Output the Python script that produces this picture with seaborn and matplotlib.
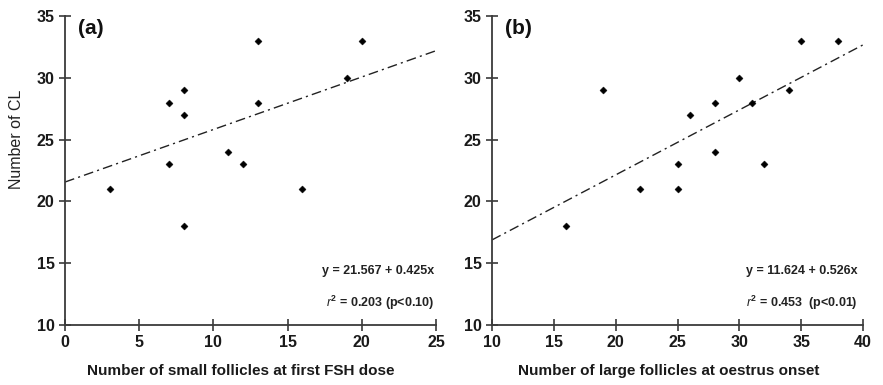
import matplotlib
matplotlib.use("Agg")
import matplotlib.pyplot as plt
import seaborn as sns
import numpy as np
import pandas as pd

# ---- data ----
small_follicles = [3, 7, 7, 8, 8, 8, 11, 12, 13, 13, 16, 19, 20]
cl_a = [21, 28, 23, 29, 27, 18, 24, 23, 33, 28, 21, 30, 33]

large_follicles = [16, 19, 22, 25, 25, 26, 28, 28, 30, 31, 32, 34, 35, 38]
cl_b = [18, 29, 21, 23, 21, 27, 28, 24, 30, 28, 23, 29, 33, 33]

intercept_a, slope_a = 21.567, 0.425
intercept_b, slope_b = 11.624, 0.526
xlim_a = [0, 25]
xlim_b = [10, 40]
ylim = [10, 35]
xticks_a = [0, 5, 10, 15, 20, 25]
xticks_b = [10, 15, 20, 25, 30, 35, 40]
yticks = [10, 15, 20, 25, 30, 35]
panel_labels = ["(a)", "(b)"]
xlabels = ["Number of small follicles at first FSH dose",
           "Number of large follicles at oestrus onset"]
ylabel = "Number of CL"
eq_texts = ["y = 21.567 + 0.425x", "y = 11.624 + 0.526x"]
r2_texts = [r"$\mathit{r}^{2}$ = 0.203 (p<0.10)", r"$\mathit{r}^{2}$ = 0.453  (p<0.01)"]

sns.set_style("ticks")
fam = ["Liberation Sans", "DejaVu Sans"]
plt.rcParams["font.family"] = fam
plt.rcParams["mathtext.fontset"] = "custom"
plt.rcParams["mathtext.it"] = "Liberation Sans:italic"
plt.rcParams["mathtext.rm"] = "Liberation Sans:bold"

fig = plt.figure(figsize=(8.83, 3.85), dpi=100)
ax_a = fig.add_axes([65 / 883, 1 - 325 / 385, 371 / 883, 309 / 385])
ax_b = fig.add_axes([492 / 883, 1 - 325 / 385, 371 / 883, 309 / 385])

panels = [
    (ax_a, small_follicles, cl_a, intercept_a, slope_a, xlim_a, xticks_a),
    (ax_b, large_follicles, cl_b, intercept_b, slope_b, xlim_b, xticks_b),
]

spine_col = "#3a3a3a"
for i, (ax, xs, ys, b0, b1, xl, xt) in enumerate(panels):
    df = pd.DataFrame({"x": xs, "y": ys})
    sns.scatterplot(data=df, x="x", y="y", ax=ax, marker="D", s=13,
                    color="black", edgecolor="black", linewidth=0.3, zorder=3)
    line_x = np.array(xl, dtype=float)
    line_df = pd.DataFrame({"x": line_x, "y": b0 + b1 * line_x})
    sns.lineplot(data=line_df, x="x", y="y", ax=ax, color="#222222",
                 linewidth=1.0, linestyle=(0, (7, 3, 1.5, 3)), zorder=2)
    ax.set_xlim(xl)
    ax.set_ylim(ylim)
    ax.set_xticks(xt)
    ax.set_yticks(yticks)
    sns.despine(ax=ax)
    for s in ["left", "bottom"]:
        ax.spines[s].set_color(spine_col)
        ax.spines[s].set_linewidth(1.3)
    ax.tick_params(axis="both", direction="inout", length=9, width=1.2,
                   color=spine_col, labelsize=11.5, pad=3)
    for lab in ax.get_xticklabels() + ax.get_yticklabels():
        lab.set_fontweight("bold")
        lab.set_color("#1a1a1a")
    ax.set_xlabel(xlabels[i], fontsize=11, fontweight="bold", color="#1a1a1a")
    ax.xaxis.set_label_coords(0.475, -0.125)
    ax.set_ylabel("")
    ax.text(0.035, 0.99, panel_labels[i], transform=ax.transAxes,
            fontsize=15, fontweight="bold", va="top", ha="left", color="#111111")
    rx = 0.995 if i == 0 else 0.985
    ax.text(rx, 0.176, eq_texts[i], transform=ax.transAxes, fontsize=9,
            fontweight="bold", ha="right", va="center", color="#222222")
    ax.text(rx, 0.073, r2_texts[i], transform=ax.transAxes, fontsize=9,
            fontweight="bold", ha="right", va="center", color="#222222")

ax_a.set_ylabel(ylabel, fontsize=11.5, color="#222222")
ax_a.yaxis.set_label_coords(-0.11, 0.6)

fig.savefig("out.png", dpi=100)
